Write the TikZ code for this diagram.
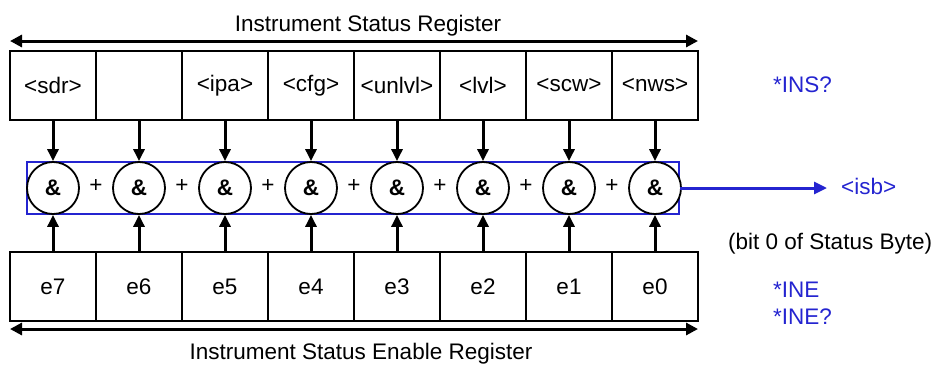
\documentclass[tikz,border=0pt]{standalone}
\usepackage{fontspec}
\setmainfont{Liberation Sans}
\usetikzlibrary{arrows.meta}
\definecolor{regblue}{RGB}{36,36,208}
\begin{document}
\begin{tikzpicture}[x=1pt,y=-1pt,
  every node/.style={font=\fontsize{22.5}{26}\selectfont, inner sep=0pt},
  cell/.style={draw, line width=1.8pt, minimum width=86pt, minimum height=69pt},
  andgate/.style={draw, circle, line width=1.8pt, minimum size=52pt},
  flow/.style={line width=3pt, -{Triangle[width=11pt,length=12pt]}},
  span/.style={line width=3pt, {Triangle[width=12pt,length=12pt]}-{Triangle[width=12pt,length=12pt]}},
  bluetext/.style={text=regblue, anchor=base west},
]
\useasboundingbox (0,0) rectangle (934,365);

% register titles and their span arrows
\node[anchor=base] (ttitle) at (368,31) {Instrument Status Register};
\coordinate (tl) at (10,41);
\coordinate (tr) at (698,41);
\draw[span] (tl) -- (tr);

\node[anchor=base] (btitle) at (361,359) {Instrument Status Enable Register};
\coordinate (bl) at (10,329);
\coordinate (br) at (698,329);
\draw[span] (bl) -- (br);

% OR group frame
\node[draw=regblue, line width=1.8pt, minimum width=652pt, minimum height=52.5pt] (grp) at (353.25,188) {};

% status bits, enable bits and AND gates
\foreach \lab [count=\i from 0] in {<sdr>,{},<ipa>,<cfg>,<unlvl>,<lvl>,<scw>,<nws>}{
  \node[cell] (t\i) at (53+86*\i,85.5) {\lab};
}
\foreach \lab [count=\i from 0] in {e7,e6,e5,e4,e3,e2,e1,e0}{
  \node[cell] (b\i) at (53+86*\i,286.5) {\lab};
  \node[andgate, fill=white] (c\i) at (53+86*\i,188) {\textbf{\&}};
  \draw[flow] (t\i) -- (c\i);
  \draw[flow] (b\i) -- (c\i);
}
\foreach \i in {0,...,6}{
  \node (p\i) at (96+86*\i,186) {+};
}

% summary output
\coordinate (isbtip) at (827,188);
\draw[regblue, line width=3pt, -{Triangle[width=12pt,length=13pt]}] (grp.east) -- (isbtip);
\node[bluetext] (isb) at (841,194) {<isb>};
\node[anchor=base west] (bitnote) at (728,249) {(bit 0 of Status Byte)};

% query / command names
\node[bluetext] (ins) at (773,92) {*INS?};
\node[bluetext] (ine) at (773,297) {*INE};
\node[bluetext] (ineq) at (773,324) {*INE?};
\end{tikzpicture}
\end{document}
